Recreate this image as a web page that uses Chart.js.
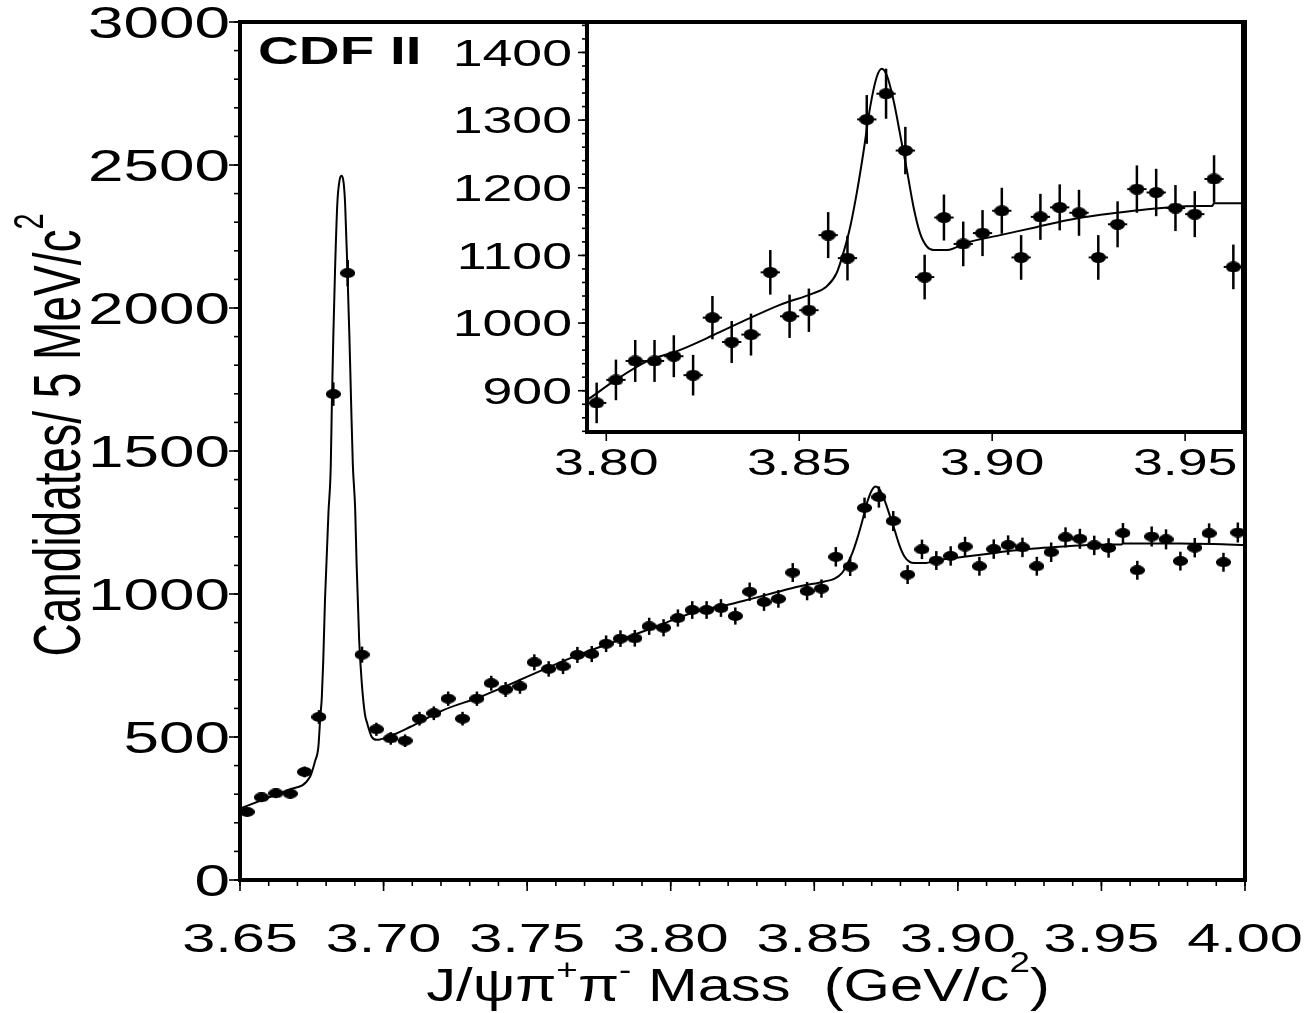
<!DOCTYPE html>
<html>
<head>
<meta charset="utf-8">
<script src="https://cdn.jsdelivr.net/npm/chart.js@4.4.0/dist/chart.umd.min.js"></script>
<style>
  html, body { margin: 0; padding: 0; background: #fff; }
  #wrap { position: relative; width: 1310px; height: 1013px; }
  #main { position: absolute; left: 0; top: 0; }
  #inset { position: absolute; left: 440px; top: 0; }
</style>
</head>
<body>
<div id="wrap">
  <canvas id="main" width="1310" height="1013"></canvas>
  <canvas id="inset" width="820" height="500"></canvas>
</div>
<script>
// bin centres (GeV/c^2), 5 MeV bins
const massBins = [
  3.6525, 3.6575, 3.6625, 3.6675, 3.6725, 3.6775, 3.6825, 3.6875, 3.6925, 3.6975,
  3.7025, 3.7075, 3.7125, 3.7175, 3.7225, 3.7275, 3.7325, 3.7375, 3.7425, 3.7475,
  3.7525, 3.7575, 3.7625, 3.7675, 3.7725, 3.7775, 3.7825, 3.7875, 3.7925, 3.7975,
  3.8025, 3.8075, 3.8125, 3.8175, 3.8225, 3.8275, 3.8325, 3.8375, 3.8425, 3.8475,
  3.8525, 3.8575, 3.8625, 3.8675, 3.8725, 3.8775, 3.8825, 3.8875, 3.8925, 3.8975,
  3.9025, 3.9075, 3.9125, 3.9175, 3.9225, 3.9275, 3.9325, 3.9375, 3.9425, 3.9475,
  3.9525, 3.9575, 3.9625, 3.9675, 3.9725, 3.9775, 3.9825, 3.9875, 3.9925, 3.9975
];
const candidates = [
  238, 289, 303, 302, 378, 570, 1699, 2122, 788, 527,
  495, 487, 564, 583, 634, 564, 634, 688, 666, 677,
  761, 738, 747, 787, 790, 826, 844, 845, 887, 882,
  916, 944, 944, 951, 923, 1008, 972, 983, 1075, 1010,
  1019, 1130, 1096, 1301, 1339, 1255, 1068, 1156, 1117, 1133,
  1166, 1097, 1157, 1171, 1163, 1097, 1146, 1198, 1193, 1170,
  1161, 1213, 1083, 1201, 1191, 1115, 1162, 1212, 1111, 1215
];
const candErr = [
  15, 17, 17, 17, 19, 24, 41, 46, 28, 23,
  22, 22, 24, 24, 25, 24, 25, 26, 26, 26,
  28, 27, 27, 28, 28, 29, 29, 29, 30, 30,
  30, 31, 31, 31, 30, 32, 31, 31, 33, 32,
  32, 34, 33, 36, 37, 35, 33, 34, 33, 34,
  34, 33, 34, 34, 34, 33, 34, 35, 35, 34,
  34, 35, 33, 35, 35, 33, 34, 35, 33, 35
];
// fitted curve
const fitMass = [
  3.6500, 3.6593, 3.6668, 3.6744, 3.6761, 3.6773, 3.6779, 3.6785, 3.6790, 3.6796,
  3.6808, 3.6816, 3.6820, 3.6825, 3.6831, 3.6839, 3.6847, 3.6854, 3.6861, 3.6866,
  3.6874, 3.6881, 3.6887, 3.6893, 3.6901, 3.6906, 3.6915, 3.6924, 3.6935, 3.6943,
  3.6959, 3.6977, 3.7022, 3.7092, 3.7208, 3.7336, 3.7649, 3.7957, 3.8017, 3.8104,
  3.8190, 3.8277, 3.8363, 3.8450, 3.8536, 3.8571, 3.8597, 3.8614, 3.8632, 3.8649,
  3.8666, 3.8684, 3.8701, 3.8714, 3.8727, 3.8744, 3.8766, 3.8779, 3.8796, 3.8813,
  3.8831, 3.8848, 3.8883, 3.8935, 3.9021, 3.9108, 3.9194, 3.9281, 3.9367, 3.9454,
  3.9540, 3.9570, 3.9575, 3.9658, 3.9774, 3.9890, 4.0000
];
const fitCounts = [
  250, 286, 315, 361, 414, 466, 560, 640, 769, 979,
  1283, 1444, 1668, 1900, 2133, 2366, 2448, 2462, 2437, 2366,
  2133, 1900, 1668, 1451, 1300, 1108, 839, 690, 580, 548,
  500, 490, 503, 535, 594, 640, 775, 889, 913, 943,
  960, 982, 1005, 1027, 1044, 1054, 1074, 1103, 1142, 1192,
  1251, 1320, 1364, 1376, 1366, 1330, 1265, 1226, 1172, 1133,
  1113, 1108, 1108, 1119, 1130, 1141, 1152, 1160, 1166, 1171,
  1173, 1173, 1177, 1177, 1177, 1175, 1171
];
const mainXTicks = [3.65, 3.70, 3.75, 3.80, 3.85, 3.90, 3.95, 4.00];
const mainYTicks = [0, 500, 1000, 1500, 2000, 2500, 3000];
const insetXTicks = [3.80, 3.85, 3.90, 3.95];
const insetYTicks = [900, 1000, 1100, 1200, 1300, 1400];

const FONT = '"Liberation Sans", Arial, sans-serif';
const SX = 1.45; // the figure is stretched sideways

function ellipseMarker(w, h) {
  const c = document.createElement('canvas');
  c.width = w; c.height = h;
  const g = c.getContext('2d');
  g.fillStyle = '#000';
  g.beginPath();
  g.ellipse(w / 2, h / 2, w / 2, h / 2, 0, 0, Math.PI * 2);
  g.fill();
  return c;
}

function wideText(ctx, text, x, y, font, align, base) {
  ctx.save();
  ctx.translate(x, y);
  ctx.scale(SX, 1);
  ctx.font = font;
  ctx.textAlign = align;
  ctx.textBaseline = base;
  ctx.fillText(text, 0, 0);
  ctx.restore();
}

// text with superscripts, pieces = [[str, raise], ...] (raise 0 = normal)
function richText(ctx, pieces, x, y, size, sx, rotate) {
  ctx.save();
  ctx.translate(x, y);
  ctx.scale(sx, 1);
  if (rotate) ctx.rotate(-Math.PI / 2);
  ctx.textBaseline = 'alphabetic';
  ctx.textAlign = 'left';
  const supSize = Math.round(size * 0.62);
  let total = 0;
  pieces.forEach(p => {
    ctx.font = (p[1] ? supSize : size) + 'px ' + FONT;
    total += ctx.measureText(p[0]).width;
  });
  let cx = -total / 2;
  pieces.forEach(p => {
    ctx.font = (p[1] ? supSize : size) + 'px ' + FONT;
    ctx.fillText(p[0], cx, -size * p[1]);
    cx += ctx.measureText(p[0]).width;
  });
  ctx.restore();
}

const points = massBins.map((m, i) => ({ x: m, y: candidates[i], e: candErr[i] }));
const fitLine = fitMass.map((m, i) => ({ x: m, y: fitCounts[i] }));

const errorBars = {
  id: 'errorBars',
  beforeDatasetsDraw(chart, args, opts) {
    const { ctx, chartArea: a, scales: { x, y } } = chart;
    ctx.save();
    ctx.beginPath();
    ctx.rect(a.left, a.top, a.right - a.left, a.bottom - a.top);
    ctx.clip();
    ctx.strokeStyle = '#000';
    points.forEach(p => {
      if (p.x < x.min || p.x > x.max) return;
      const px = x.getPixelForValue(p.x);
      ctx.lineWidth = opts.vw;
      ctx.beginPath();
      ctx.moveTo(px, y.getPixelForValue(p.y - p.e));
      ctx.lineTo(px, y.getPixelForValue(p.y + p.e));
      ctx.stroke();
      const py = y.getPixelForValue(p.y);
      ctx.lineWidth = opts.hw;
      ctx.beginPath();
      ctx.moveTo(x.getPixelForValue(p.x - 0.0025), py);
      ctx.lineTo(x.getPixelForValue(p.x + 0.0025), py);
      ctx.stroke();
    });
    ctx.restore();
  }
};

const axesFrame = {
  id: 'axesFrame',
  beforeDraw(chart, args, opts) {
    if (!opts.fill) return;
    const { ctx, chartArea: a } = chart;
    ctx.save();
    ctx.fillStyle = '#fff';
    ctx.fillRect(a.left, a.top, a.right - a.left, a.bottom - a.top);
    ctx.restore();
  },
  afterDraw(chart, args, o) {
    const { ctx, chartArea: a, scales: { x, y } } = chart;
    ctx.save();
    ctx.strokeStyle = '#000';
    ctx.fillStyle = '#000';
    ctx.lineWidth = 1.6;
    if (o.xMinor) {
      for (let k = Math.round(x.min / o.xMinor); k * o.xMinor <= x.max + 1e-9; k++) {
        const px = x.getPixelForValue(k * o.xMinor);
        ctx.beginPath(); ctx.moveTo(px, a.bottom); ctx.lineTo(px, a.bottom + o.tMinor); ctx.stroke();
      }
    }
    o.xTicks.forEach(v => {
      const px = x.getPixelForValue(v);
      ctx.beginPath(); ctx.moveTo(px, a.bottom); ctx.lineTo(px, a.bottom + o.tMajor); ctx.stroke();
      wideText(ctx, v.toFixed(2), px, a.bottom + o.xLabOff, o.xFont + 'px ' + FONT, 'center', 'alphabetic');
    });
    for (let k = Math.ceil(y.min / o.yMinor); k * o.yMinor <= y.max + 1e-9; k++) {
      const py = y.getPixelForValue(k * o.yMinor);
      ctx.beginPath(); ctx.moveTo(a.left, py); ctx.lineTo(a.left - o.tMinor, py); ctx.stroke();
    }
    o.yTicks.forEach(v => {
      const py = y.getPixelForValue(v);
      ctx.beginPath(); ctx.moveTo(a.left, py); ctx.lineTo(a.left - o.tMajor, py); ctx.stroke();
      wideText(ctx, String(v), a.left - o.yLabOff, py + o.yFont * 0.36, o.yFont + 'px ' + FONT, 'right', 'alphabetic');
    });
    ctx.lineWidth = 4;
    ctx.strokeRect(a.left, a.top, a.right - a.left, a.bottom - a.top);
    ctx.restore();
  }
};

const mainTexts = {
  id: 'mainTexts',
  afterDraw(chart) {
    const ctx = chart.ctx;
    ctx.save();
    ctx.fillStyle = '#000';
    wideText(ctx, 'CDF II', 258, 64, 'bold 39px ' + FONT, 'left', 'alphabetic');
    richText(ctx, [['J/ψπ', 0], ['+', 0.45], ['π', 0], ['-', 0.45], [' Mass  (GeV/c', 0], ['2', 0.62], [')', 0]],
      738, 1001, 47, 1.27, false);
    richText(ctx, [['Candidates/ 5 MeV/c', 0], ['2', 0.55]], 80, 435, 46, SX, true);
    ctx.restore();
  }
};

const mainMarker = ellipseMarker(15, 10);
const insetMarker = ellipseMarker(15, 11);

function baseOptions(xr, yr, fixW, fixH, pad) {
  return {
    responsive: false,
    animation: false,
    devicePixelRatio: 1,
    layout: { padding: pad },
    plugins: { legend: { display: false }, tooltip: { enabled: false } },
    scales: {
      x: {
        type: 'linear', min: xr[0], max: xr[1],
        grid: { display: false }, border: { display: false }, ticks: { display: false },
        afterFit(s) { s.height = fixH; }
      },
      y: {
        type: 'linear', min: yr[0], max: yr[1],
        grid: { display: false }, border: { display: false }, ticks: { display: false },
        afterFit(s) { s.width = fixW; }
      }
    }
  };
}

function datasets(marker) {
  return [
    {
      data: fitLine, showLine: true, pointRadius: 0, borderColor: '#000', borderWidth: 2,
      cubicInterpolationMode: 'monotone', fill: false
    },
    {
      data: points, showLine: false, pointStyle: marker, pointRadius: 6,
      backgroundColor: '#000', borderColor: '#000'
    }
  ];
}

const mainOpts = baseOptions([3.65, 4.00], [0, 3000], 240, 133, { left: 0, right: 65, top: 22, bottom: 0 });
mainOpts.plugins.errorBars = { vw: 2.5, hw: 2 };
mainOpts.plugins.axesFrame = {
  fill: false, xTicks: mainXTicks, yTicks: mainYTicks, xMinor: 0.01, yMinor: 100,
  tMinor: 6, tMajor: 11, xFont: 41, yFont: 44, xLabOff: 72, yLabOff: 10
};
new Chart(document.getElementById('main'), {
  type: 'scatter',
  data: { datasets: datasets(mainMarker) },
  options: mainOpts,
  plugins: [errorBars, axesFrame, mainTexts]
});

const insetOpts = baseOptions([3.795, 3.965], [839, 1445], 147, 68, { left: 0, right: 17, top: 22, bottom: 0 });
insetOpts.plugins.errorBars = { vw: 2.5, hw: 2 };
insetOpts.plugins.axesFrame = {
  fill: true, xTicks: insetXTicks, yTicks: insetYTicks, xMinor: 0, yMinor: 20,
  tMinor: 5, tMajor: 9, xFont: 37, yFont: 37, xLabOff: 43, yLabOff: 15
};
new Chart(document.getElementById('inset'), {
  type: 'scatter',
  data: { datasets: datasets(insetMarker) },
  options: insetOpts,
  plugins: [errorBars, axesFrame]
});
</script>
</body>
</html>
